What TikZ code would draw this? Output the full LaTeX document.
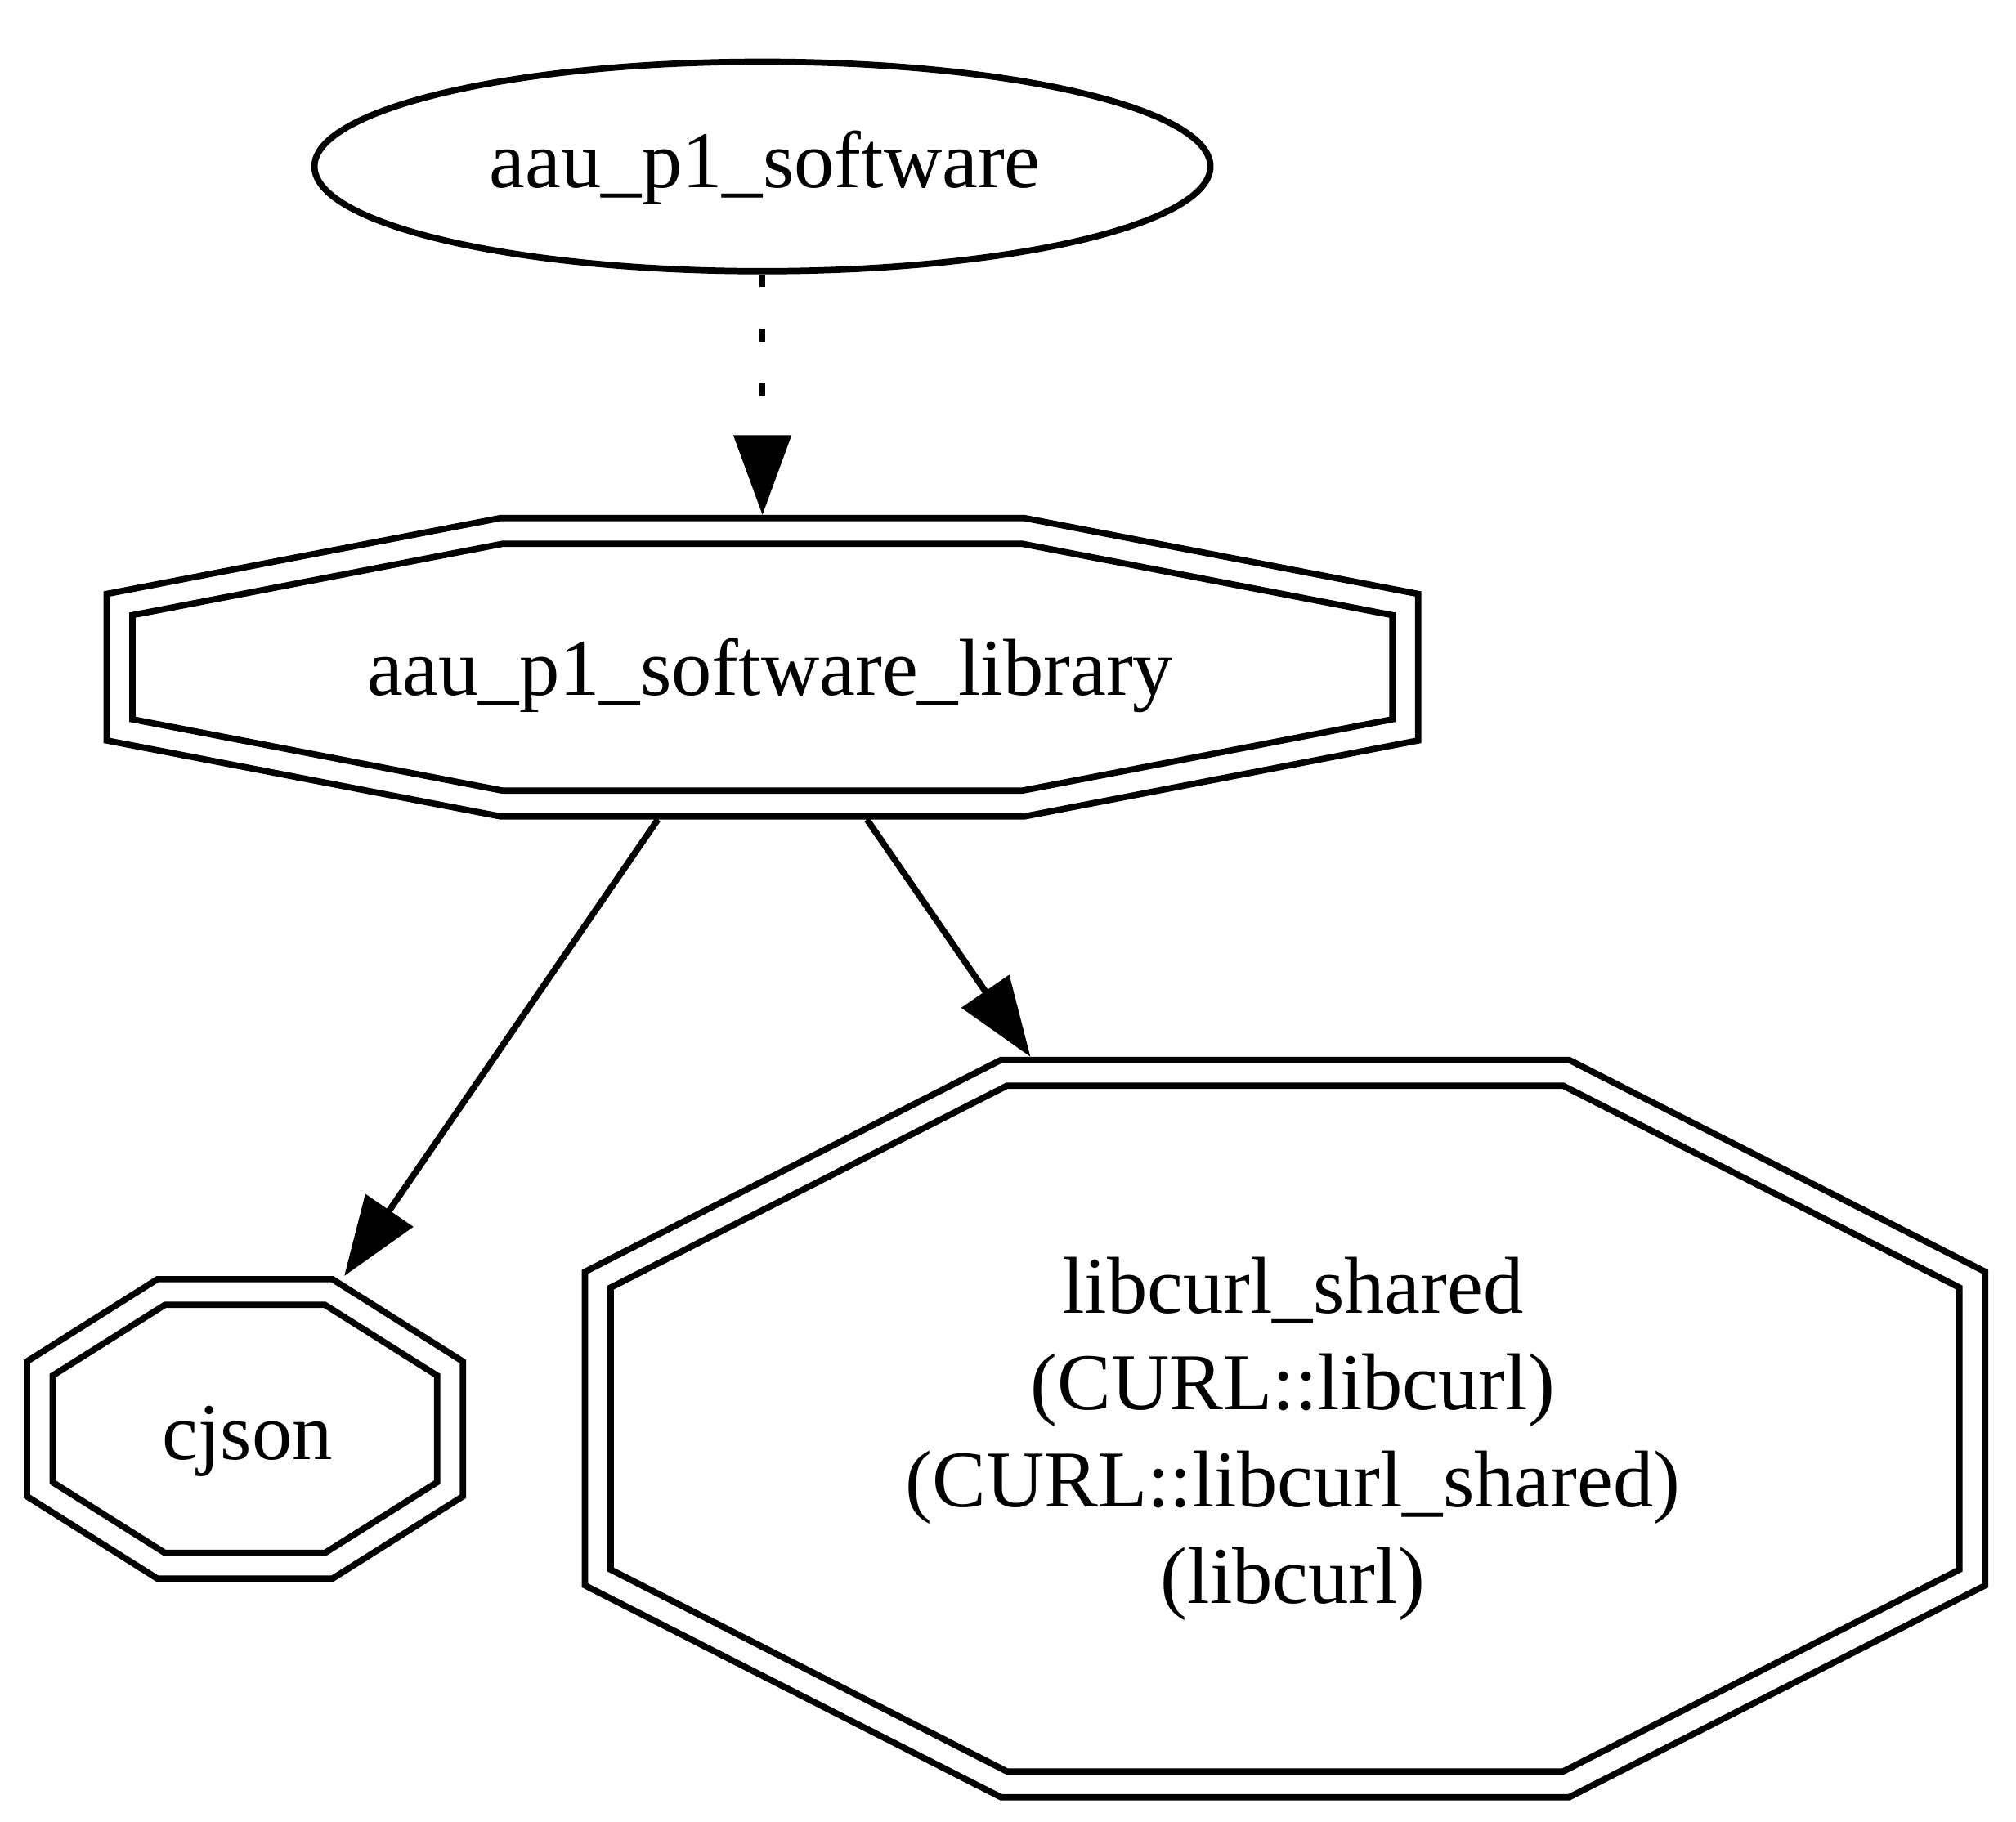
\documentclass[tikz,border=0pt]{standalone}
\usepackage{fontspec}
\setmainfont{Liberation Serif}
\usetikzlibrary{arrows.meta,shapes.geometric}

% octagon outline around the origin: half width, half height,
% half width of the top/bottom sides, half height of the left/right sides
\newcommand{\octpath}[4]{(-#3,-#2) -- (#3,-#2) -- (#1,-#4) -- (#1,#4) -- (#3,#2) -- (-#3,#2) -- (-#1,#4) -- (-#1,-#4) -- cycle}

\begin{document}
\begin{tikzpicture}[x=0.02cm, y=-0.02cm, line width=2.8pt, line join=miter,
  vertex/.style={rectangle, inner sep=0pt, outer sep=1.4pt},
  nodetext/.style={font=\fontsize{35.7}{42.8}\selectfont, inner sep=0pt, anchor=base},
  edge/.style={-{Triangle[length=1.24cm, width=0.88cm]}},
  dep/.style={edge, dash pattern=on 0.2cm off 0.648cm}]

\useasboundingbox (0,0) rectangle (1568,1417);

% executable target
\node[ellipse, draw, inner sep=0pt, outer sep=1.4pt,
      minimum width=13.94cm, minimum height=3.26cm] (src) at (593,129.5) {};
\node[nodetext] (srcText) at (595,146) {aau\_p1\_software};

% library target
\node[vertex, minimum width=20.4cm, minimum height=4.64cm] (lib) at (593,519) {};
\draw[shift={(lib.center)}] \octpath{510}{116}{204}{57};
\draw[shift={(lib.center)}] \octpath{490}{96}{202.1}{40.5};
\node[nodetext] (libText) at (599,540.5) {aau\_p1\_software\_library};

% cjson
\node[vertex, minimum width=6.78cm, minimum height=4.66cm] (cjson) at (190.5,1111.5) {};
\draw[shift={(cjson.center)}] \octpath{169.5}{116.5}{68}{52.5};
\draw[shift={(cjson.center)}] \octpath{149.5}{96.5}{62.2}{41.5};
\node[nodetext] (cjsonText) at (192.5,1135) {cjson};

% libcurl
\node[vertex, minimum width=21.78cm, minimum height=11.47cm] (curl) at (999.5,1111.25) {};
\draw[shift={(curl.center)}] \octpath{544.5}{286.75}{221}{122};
\draw[shift={(curl.center)}] \octpath{524.5}{266.75}{216.2}{109.7};
\node[nodetext] (curlA) at (1005.5,1021.5) {libcurl\_shared};
\node[nodetext] (curlB) at (1005.5,1096.8) {(CURL::libcurl)};
\node[nodetext] (curlC) at (1005.5,1172.1) {(CURL::libcurl\_shared)};
\node[nodetext] (curlD) at (1005.5,1247.4) {(libcurl)};

% dependencies
\draw[dep] (src) -- (lib);
\draw[edge] (lib) -- (cjson.57);
\draw[edge] (lib) -- (curl);
\end{tikzpicture}
\end{document}
